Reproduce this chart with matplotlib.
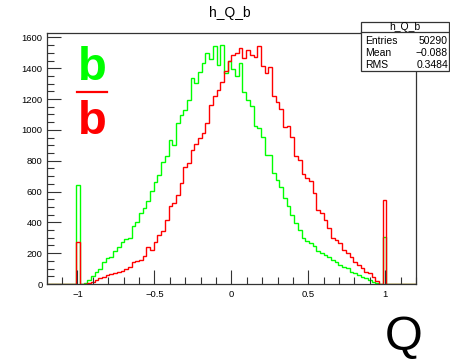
import matplotlib.pyplot as plt
from matplotlib.patches import Rectangle
from matplotlib.lines import Line2D
from matplotlib.ticker import MultipleLocator
import numpy as np

plt.rcParams['font.family'] = ['Liberation Sans', 'DejaVu Sans']

# Histogram binning: 100 bins on [-1.2, 1.2]
x_min, x_max, n_bins = -1.2, 1.2, 100

# Counts per bin
counts_b = [
    0, 0, 0, 0, 0, 0, 0, 0, 640, 0,
    8, 28, 52, 75, 100, 140, 170, 178, 215, 240,
    270, 290, 300, 375, 405, 460, 495, 540, 606, 665,
    708, 794, 831, 935, 903, 1044, 1098, 1130, 1195, 1336,
    1304, 1373, 1434, 1499, 1460, 1542, 1423, 1553, 1369, 1444,
    1395, 1347, 1434, 1249, 1195, 1152, 1022, 1015, 957, 838,
    838, 719, 676, 632, 557, 503, 448, 394, 351, 297,
    281, 264, 245, 215, 200, 190, 172, 156, 145, 123,
    113, 102, 80, 69, 58, 48, 37, 26, 15, 4,
    0, 303, 0, 0, 0, 0, 0, 0, 0, 0,
]
counts_bbar = [
    0, 0, 0, 0, 0, 0, 0, 0, 275, 0,
    0, 5, 15, 28, 37, 48, 58, 65, 70, 75,
    82, 95, 113, 145, 150, 156, 180, 242, 221, 275,
    318, 345, 416, 505, 524, 580, 654, 762, 784, 870,
    910, 946, 979, 1044, 1163, 1217, 1260, 1310, 1379, 1450,
    1488, 1499, 1531, 1466, 1520, 1488, 1473, 1546, 1412, 1369,
    1408, 1217, 1184, 1135, 1018, 1022, 953, 831, 806, 715,
    687, 671, 589, 481, 459, 416, 362, 297, 286, 264,
    221, 199, 177, 145, 123, 102, 80, 69, 48, 20,
    0, 546, 0, 0, 0, 0, 0, 0, 0, 0,
]

hist_name = "h_Q_b"
stats_labels = ["Entries", "Mean", "RMS"]
stats_values = ["50290", "\u22120.088", "0.3484"]
x_ticks = [-1, -0.5, 0, 0.5, 1]
x_tick_labels = ["\u22121", "\u22120.5", "0", "0.5", "1"]
y_ticks = [0, 200, 400, 600, 800, 1000, 1200, 1400, 1600]

W, H = 450, 359


def fx(x):
    return x / W


def fy(y):
    return 1 - y / H


fig = plt.figure(figsize=(W / 100, H / 100), dpi=100)
ax = fig.add_axes([fx(46.7), fy(284), (416 - 46.7) / W, (284 - 32.7) / H])

edges = np.linspace(x_min, x_max, n_bins + 1)
ax.stairs(counts_b, edges, baseline=0, color="#00ff00", lw=1.0)
ax.stairs(counts_bbar, edges, baseline=0, color="#ff0000", lw=1.0)

ax.set_xlim(x_min, x_max)
ax.set_ylim(0, max(counts_b + counts_bbar) * 1.05)

ax.set_xticks(x_ticks)
ax.set_xticklabels(x_tick_labels)
ax.set_yticks(y_ticks)
ax.xaxis.set_minor_locator(MultipleLocator(0.1))
ax.yaxis.set_minor_locator(MultipleLocator(50))
ax.tick_params(which="both", direction="in", top=False, right=False,
               labelsize=6.8, color="#333333", width=0.8)
ax.tick_params(which="major", length=10)
ax.tick_params(which="minor", length=5)
ax.tick_params(axis="y", pad=3)
ax.tick_params(axis="x", pad=4)
for sp in ax.spines.values():
    sp.set_color("#333333")
    sp.set_linewidth(0.9)

# Title
fig.text(fx(230), fy(12.5), hist_name, ha="center", va="center", fontsize=10)

# Stats box
fig.patches.append(Rectangle((fx(360.7), fy(71)), (448.5 - 360.7) / W, (71 - 21.7) / H,
                             transform=fig.transFigure, facecolor="white",
                             edgecolor="#333333", lw=0.9, zorder=5))
fig.lines.append(Line2D([fx(360.7), fx(448.5)], [fy(32.3), fy(32.3)],
                        transform=fig.transFigure, color="#333333", lw=0.9, zorder=6))
fig.text(fx(405), fy(27), hist_name, ha="center", va="center", fontsize=7.5, zorder=7)
for i, (lab, val) in enumerate(zip(stats_labels, stats_values)):
    yy = fy(40.7 + 12.3 * i)
    fig.text(fx(365.5), yy, lab, ha="left", va="center", fontsize=7.5, zorder=7)
    fig.text(fx(448), yy, val, ha="right", va="center", fontsize=7.5, zorder=7)

# b / b-bar legend
fig.text(fx(92), fy(80), "b", ha="center", va="baseline", fontsize=34,
         fontweight="bold", color="#00ff00")
fig.lines.append(Line2D([fx(77), fx(107)], [fy(91.7), fy(91.7)],
                        transform=fig.transFigure, color="#ff0000", lw=1.6))
fig.text(fx(92), fy(134), "b", ha="center", va="baseline", fontsize=34,
         fontweight="bold", color="#ff0000")

# Axis title
fig.text(fx(404), fy(350), "Q", ha="center", va="baseline", fontsize=35)

fig.savefig("out.png", dpi=100)
